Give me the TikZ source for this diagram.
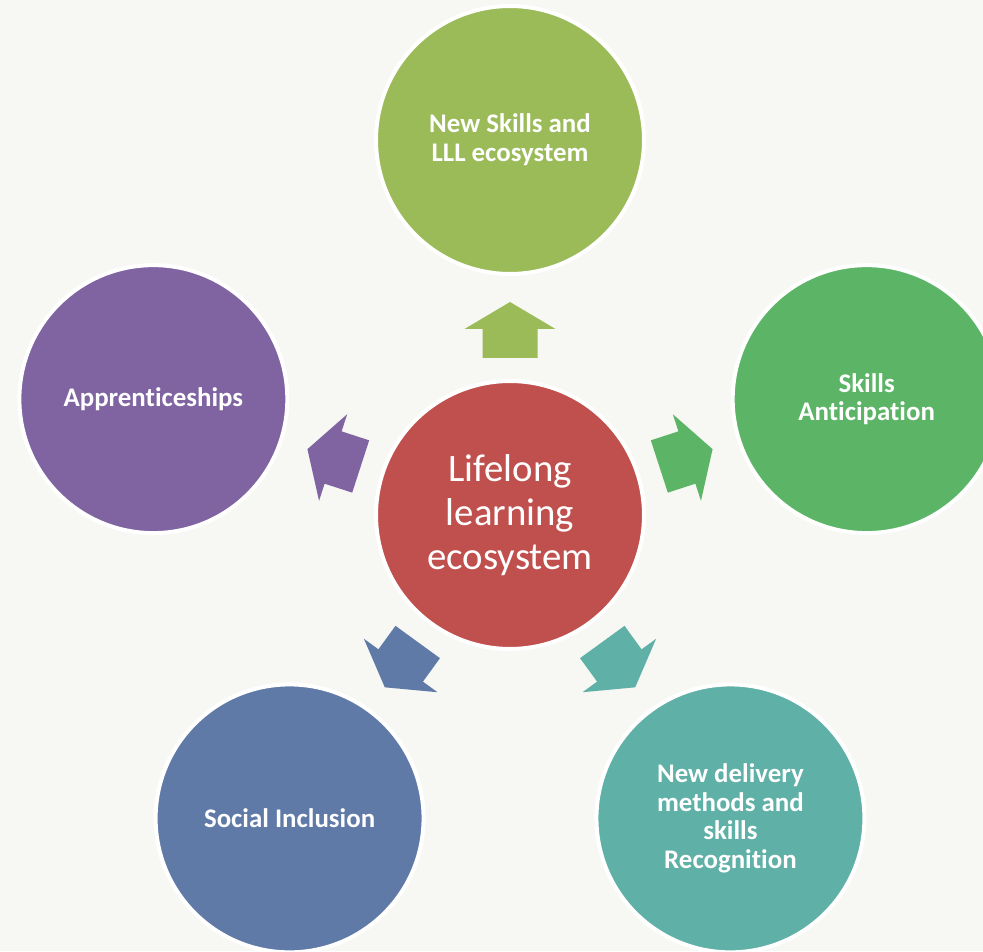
\documentclass[tikz,border=0pt]{standalone}
\usepackage{fontspec}
\setmainfont{Carlito}[Ligatures=NoCommon]
\usetikzlibrary{positioning,calc}
\definecolor{paper}{RGB}{247,247,243}
\definecolor{hubred}{RGB}{192,80,77}
\definecolor{skillgreen}{RGB}{155,187,89}
\definecolor{anticgreen}{RGB}{92,181,102}
\definecolor{deliveryteal}{RGB}{95,176,166}
\definecolor{inclusionblue}{RGB}{96,122,168}
\definecolor{apprpurple}{RGB}{128,100,162}

\begin{document}
\begin{tikzpicture}[x=0.02cm, y=0.02cm,
        bubble/.style={circle, draw=white, line width=0.08cm, minimum size=5.36cm, inner sep=0pt, align=center, text=white, font=\fontsize{15.3}{16.4}\selectfont\bfseries},
        hubbubble/.style={bubble, fill=hubred, font=\fontsize{22.1}{25}\selectfont}]

        % page
        \fill[paper] (0,0) rectangle (983,951);
        \useasboundingbox (0,0) rectangle (983,951);
        \clip (0,0) rectangle (983,951);

        % hub
        \node[hubbubble] (hub) at (510,436) {Lifelong\\learning\\ecosystem};

        % outer bubbles and block arrows
        \foreach \ang/\col/\nm/\txt in {90/skillgreen/skills/{New Skills and\\LLL ecosystem},
                18/anticgreen/antic/{Skills\\Anticipation},
                -54/deliveryteal/delivery/{New delivery\\methods and\\skills\\Recognition},
                -126/inclusionblue/inclusion/{Social Inclusion},
                162/apprpurple/appr/{Apprenticeships}} {
            \fill[\col, shift={(hub)}, rotate=\ang] (157,-27.5) -- (186,-27.5) -- (186,-45.5) -- (213,0)
                -- (186,45.5) -- (186,27.5) -- (157,27.5) -- cycle;
            \node[bubble, fill=\col] (\nm) at ($(hub)+(\ang:375)$) {\txt};
        }

    \end{tikzpicture}
\end{document}
